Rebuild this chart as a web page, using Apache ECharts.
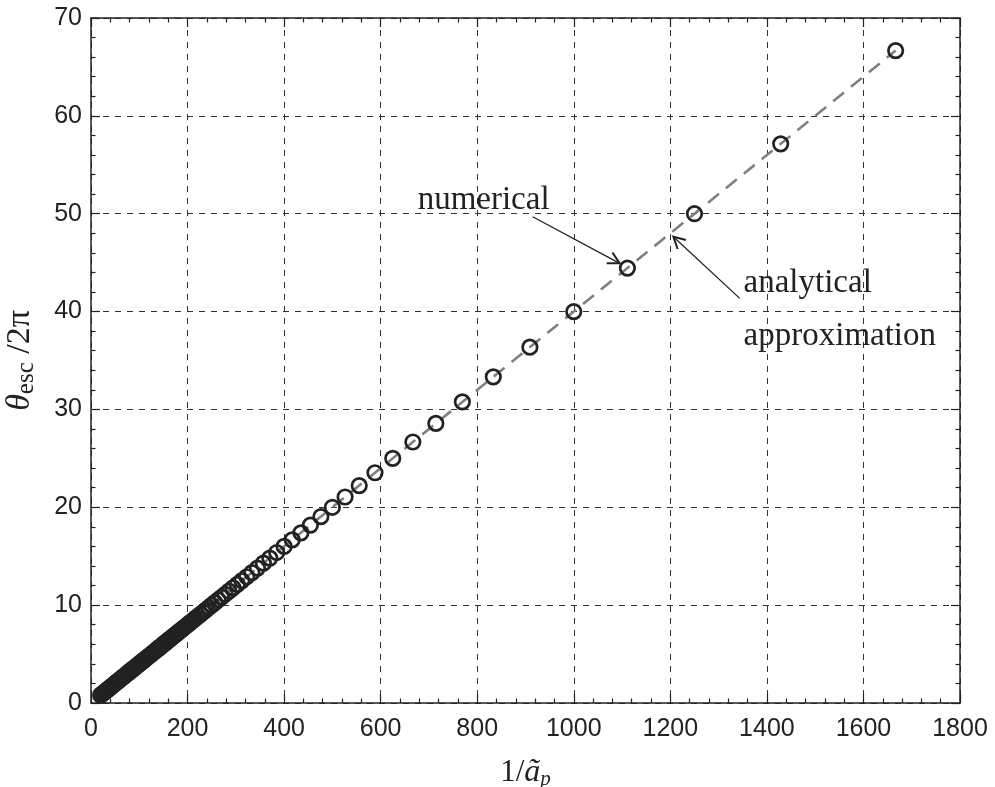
<!DOCTYPE html>
<html>
<head>
<meta charset="utf-8">
<script src="https://cdn.jsdelivr.net/npm/echarts@6/dist/echarts.min.js"></script>
<style>html,body{margin:0;padding:0;background:#fff}#c{width:995px;height:787px}</style>
</head>
<body>
<div id="c"></div>
<script>
// numerical results: x = 1/a_p, y = theta_esc / 2pi
const numX = [1666.7,1428.6,1250.0,1111.1,1000.0,909.1,833.3,769.2,714.3,666.7,625.0,588.2,555.6,526.3,500.0,
476.2,454.5,434.8,416.7,400.0,384.6,370.4,357.1,344.8,333.3,322.6,312.5,303.0,294.1,285.7,277.8,270.3,263.2,256.4,250.0,
243.9,238.1,232.6,227.3,222.2,217.4,212.8,208.3,204.1,200.0,196.1,192.3,188.7,185.2,181.8,178.6,175.4,172.4,169.5,166.7,
163.9,161.3,158.7,156.3,153.8,151.5,149.3,147.1,144.9,142.9,140.8,138.9,137.0,135.1,131.6,128.2,125.0,122.0,119.0,116.3,
113.6,111.1,108.7,106.4,104.2,102.0,100.0,97.1,94.3,91.7,89.3,87.0,84.7,82.6,80.6,78.7,76.9,74.1,71.4,69.0,66.7,
63.3,60.2,57.5,54.9,52.6,50.0,46.5,43.5,40.8,38.5,36.4,34.5,33.3,30.0,27.3,25.0,22.2,20.0];
const numY = [66.67,57.14,50.00,44.44,40.00,36.36,33.33,30.77,28.57,26.67,25.00,23.53,22.22,21.05,20.00,
19.05,18.18,17.39,16.67,16.00,15.38,14.81,14.29,13.79,13.33,12.90,12.50,12.12,11.76,11.43,11.11,10.81,10.53,10.26,10.00,
9.76,9.52,9.30,9.09,8.89,8.70,8.51,8.33,8.16,8.00,7.84,7.69,7.55,7.41,7.27,7.14,7.02,6.90,6.78,6.67,
6.56,6.45,6.35,6.25,6.15,6.06,5.97,5.88,5.80,5.71,5.63,5.56,5.48,5.41,5.26,5.13,5.00,4.88,4.76,4.65,
4.55,4.44,4.35,4.26,4.17,4.08,4.00,3.88,3.77,3.67,3.57,3.48,3.39,3.31,3.23,3.15,3.08,2.96,2.86,2.76,2.67,
2.53,2.41,2.30,2.20,2.11,2.00,1.86,1.74,1.63,1.54,1.45,1.38,1.33,1.20,1.09,1.00,0.89,0.80];
// analytical approximation (straight line)
const anaX = [20.0, 1666.7];
const anaY = [0.80, 66.67];
// axis ticks
const xTicks = {min: 0, max: 1800, step: 200};
const yTicks = {min: 0, max: 70, step: 10};
// annotations (data coordinates)
const labels = [
  {text: 'numerical', x: 676.6, y: 51.40},
  {text: 'analytical', x: 1351.7, y: 42.92},
  {text: 'approximation', x: 1351.7, y: 37.50}
];
const arrows = [
  {from: [914.9, 49.69], to: [1095.1, 44.93]},
  {from: [1343.8, 41.35], to: [1206.3, 47.65]}
];

const chart = echarts.init(document.getElementById('c'), null, {renderer: 'canvas'});
const ink = '#222';
const tickCommon = {
  axisLine: {show: true, onZero: false, lineStyle: {color: ink, width: 1.5}},
  axisTick: {show: true, inside: true, length: 9, lineStyle: {color: ink, width: 1.2}},
  minorTick: {show: true, splitNumber: 5, length: 4.5, lineStyle: {color: ink, width: 1.2}}
};
const labelFont = {fontFamily: '"Liberation Sans", Arial, sans-serif', fontSize: 25, color: ink,
  formatter: v => String(v)};
const serif = '"Liberation Serif", serif';

const option = {
  animation: false,
  backgroundColor: '#fff',
  grid: {left: 91, right: 35, top: 18, bottom: 84, containLabel: false, outerBoundsMode: 'none'},
  xAxis: [
    Object.assign({
      type: 'value', min: xTicks.min, max: xTicks.max, interval: xTicks.step, position: 'bottom',
      axisLabel: Object.assign({margin: 14}, labelFont),
      splitLine: {show: true, lineStyle: {color: '#333', width: 1, type: [6, 6]}},
      name: '{n|1/}{i|ã}{s|p}', nameLocation: 'middle', nameGap: 52,
      nameTextStyle: {
        rich: {
          n: {fontFamily: serif, fontSize: 31, color: ink},
          i: {fontFamily: serif, fontStyle: 'italic', fontSize: 32, color: ink},
          s: {fontFamily: serif, fontStyle: 'italic', fontSize: 21, color: ink, padding: [14, 0, 0, 0]}
        }
      }
    }, tickCommon),
    Object.assign({
      type: 'value', min: xTicks.min, max: xTicks.max, interval: xTicks.step, position: 'top',
      axisLabel: {show: false}, splitLine: {show: false}
    }, tickCommon)
  ],
  yAxis: [
    Object.assign({
      type: 'value', min: yTicks.min, max: yTicks.max, interval: yTicks.step, position: 'left',
      axisLabel: Object.assign({margin: 9}, labelFont),
      splitLine: {show: true, lineStyle: {color: '#333', width: 1, type: [6, 6]}},
      name: '{i|θ}{s|esc}{n| /2π}', nameLocation: 'middle', nameGap: 52, nameRotate: 90,
      nameTextStyle: {
        rich: {
          i: {fontFamily: serif, fontStyle: 'italic', fontSize: 34, color: ink},
          s: {fontFamily: serif, fontSize: 25, color: ink, padding: [12, 0, 0, 0]},
          n: {fontFamily: serif, fontSize: 34, color: ink}
        }
      }
    }, tickCommon),
    Object.assign({
      type: 'value', min: yTicks.min, max: yTicks.max, interval: yTicks.step, position: 'right',
      axisLabel: {show: false}, splitLine: {show: false}
    }, tickCommon)
  ],
  series: [
    {
      type: 'line', xAxisIndex: 0, yAxisIndex: 0, z: 2,
      data: anaX.map((x, i) => [x, anaY[i]]),
      showSymbol: false, symbol: 'none',
      lineStyle: {color: '#808080', width: 2.6, type: [14, 9]}
    },
    {
      type: 'scatter', xAxisIndex: 0, yAxisIndex: 0, z: 3,
      data: numX.map((x, i) => [x, numY[i]]),
      symbol: 'circle', symbolSize: 14.5,
      itemStyle: {color: 'rgba(0,0,0,0)', borderColor: ink, borderWidth: 2.7, opacity: 1}
    }
  ]
};
chart.setOption(option);

const toPx = p => chart.convertToPixel({xAxisIndex: 0, yAxisIndex: 0}, p);
const graphics = [];
labels.forEach(l => {
  const p = toPx([l.x, l.y]);
  graphics.push({
    type: 'text', x: p[0], y: p[1], z: 10,
    style: {text: l.text, font: '33px "Liberation Serif", serif', fill: ink, align: 'left', verticalAlign: 'middle'}
  });
});
arrows.forEach(a => {
  const p0 = toPx(a.from), p1 = toPx(a.to);
  const dx = p1[0] - p0[0], dy = p1[1] - p0[1];
  const len = Math.hypot(dx, dy), ux = dx / len, uy = dy / len;
  const L = 13, ang = 28 * Math.PI / 180;
  const barb = s => {
    const c = Math.cos(s * ang), sn = Math.sin(s * ang);
    const rx = ux * c - uy * sn, ry = ux * sn + uy * c;
    return [p1[0] - L * rx, p1[1] - L * ry];
  };
  graphics.push({type: 'line', z: 10, shape: {x1: p0[0], y1: p0[1], x2: p1[0], y2: p1[1]},
    style: {stroke: ink, lineWidth: 1.3}});
  graphics.push({type: 'polyline', z: 10, shape: {points: [barb(1), p1, barb(-1)]},
    style: {stroke: ink, lineWidth: 2, fill: null}});
});
chart.setOption({graphic: graphics});
</script>
</body>
</html>
